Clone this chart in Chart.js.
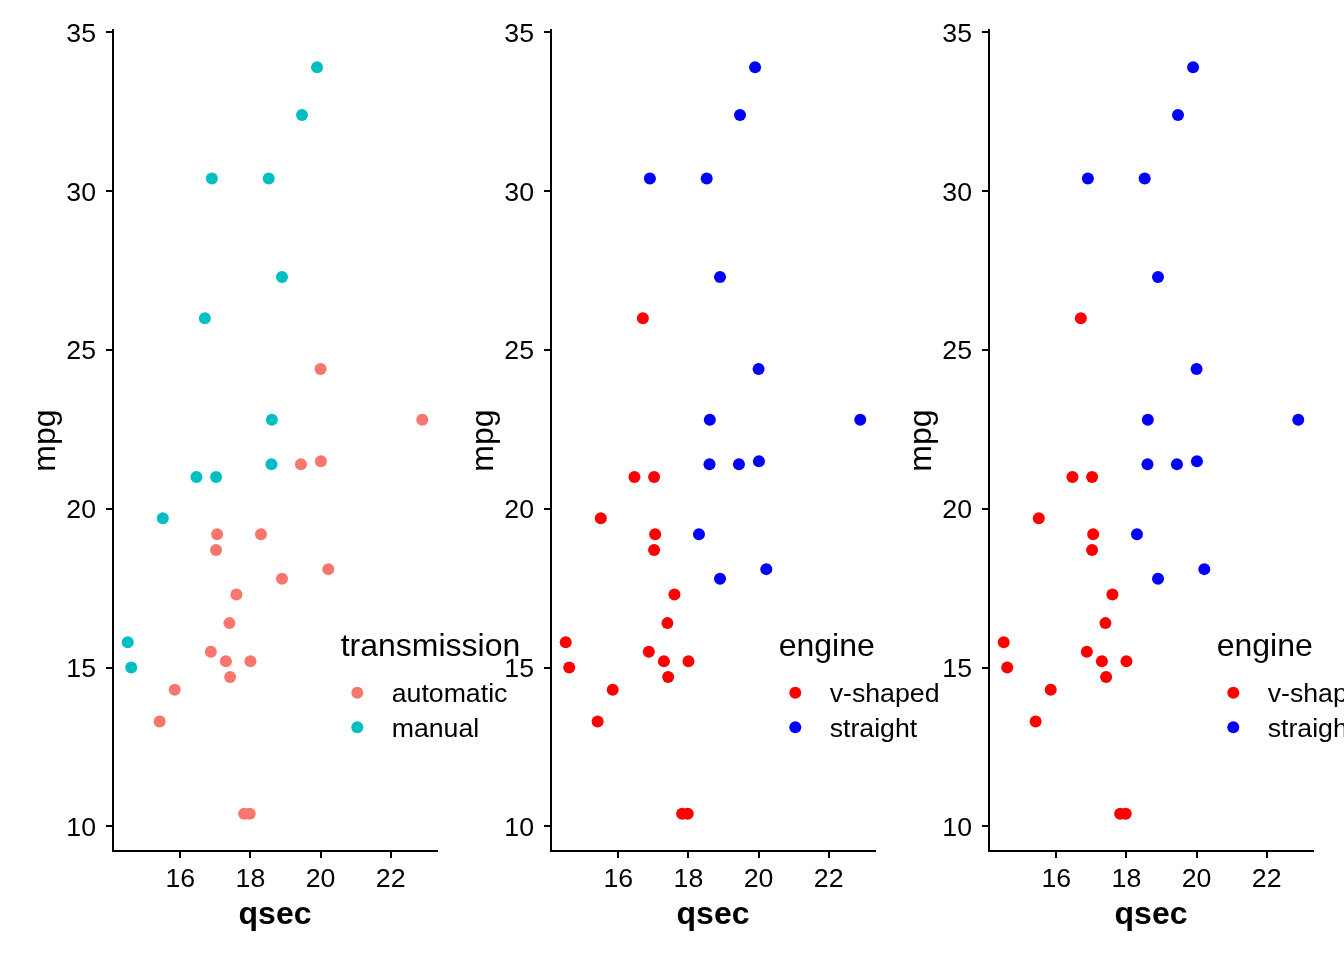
<!DOCTYPE html>
<html>
<head>
<meta charset="utf-8">
<script src="https://cdn.jsdelivr.net/npm/chart.js@4.4.1/dist/chart.umd.min.js"></script>
<style>
  html, body { margin: 0; padding: 0; background: #fff; overflow: hidden; }
  body { width: 1344px; height: 960px; position: relative; }
  .panel { position: absolute; top: 0; width: 560px; height: 960px; }
</style>
</head>
<body>
<div class="panel" style="left:0px"><canvas id="c1" width="560" height="960"></canvas></div>
<div class="panel" style="left:438px"><canvas id="c2" width="560" height="960"></canvas></div>
<div class="panel" style="left:876px"><canvas id="c3" width="560" height="960"></canvas></div>

<script>
// mtcars: qsec, mpg, am (0 = automatic, 1 = manual), vs (0 = v-shaped, 1 = straight)
const qsec = [16.46, 17.02, 18.61, 19.44, 17.02, 20.22, 15.84, 20.00, 22.90, 18.30, 18.90,
              17.40, 17.60, 18.00, 17.98, 17.82, 17.42, 19.47, 18.52, 19.90, 20.01, 16.87,
              17.30, 15.41, 17.05, 18.90, 16.70, 16.90, 14.50, 15.50, 14.60, 18.60];
const mpg  = [21.0, 21.0, 22.8, 21.4, 18.7, 18.1, 14.3, 24.4, 22.8, 19.2, 17.8,
              16.4, 17.3, 15.2, 10.4, 10.4, 14.7, 32.4, 30.4, 33.9, 21.5, 15.5,
              15.2, 13.3, 19.2, 27.3, 26.0, 30.4, 15.8, 19.7, 15.0, 21.4];
const am   = [1, 1, 1, 0, 0, 0, 0, 0, 0, 0, 0, 0, 0, 0, 0, 0, 0, 1, 1, 1, 0, 0, 0, 0, 0, 1, 1, 1, 1, 1, 1, 1];
const vs   = [0, 0, 1, 1, 0, 1, 0, 1, 1, 1, 1, 0, 0, 0, 0, 0, 0, 1, 1, 1, 1, 0, 0, 0, 0, 1, 0, 1, 0, 0, 0, 1];

const transLabels = ['automatic', 'manual'];
const transColors = ['#F8766D', '#00BFC4'];
const engineLabels = ['v-shaped', 'straight'];
const engineColors = ['#FF0000', '#0000FF'];

const xTicks = [16, 18, 20, 22];
const yTicks = [10, 15, 20, 25, 30, 35];

const FONT = "'Liberation Sans', Arial, Helvetica, sans-serif";

function groupData(groupVar, level) {
    const pts = [];
    for (let i = 0; i < qsec.length; i++) {
        if (groupVar[i] === level) pts.push({x: qsec[i], y: mpg[i]});
    }
    return pts;
}

// legend drawn to the right, like ggplot's guide
const ggLegend = {
    id: 'ggLegend',
    afterDraw(chart, args, opts) {
        const ctx = chart.ctx;
        const left = chart.chartArea.left;
        ctx.save();
        ctx.fillStyle = '#000';
        ctx.textAlign = 'left';
        ctx.textBaseline = 'alphabetic';
        ctx.font = '32px ' + FONT;
        ctx.fillText(opts.title, left + 227.7, 656);
        ctx.font = '26.7px ' + FONT;
        ctx.textBaseline = 'middle';
        const ys = [692.7, 727.3];
        opts.labels.forEach((lab, k) => {
            ctx.fillStyle = opts.colors[k];
            ctx.beginPath();
            ctx.arc(left + 244.3, ys[k], 6, 0, Math.PI * 2);
            ctx.fill();
            ctx.fillStyle = '#000';
            ctx.fillText(lab, left + 278.7, ys[k] + 2);
        });
        ctx.restore();
    }
};

function makeChart(id, groupVar, labels, colors, legendTitle) {
    const datasets = labels.map((lab, k) => ({
        label: lab,
        data: groupData(groupVar, k),
        backgroundColor: colors[k],
        borderWidth: 0,
        pointRadius: 6,
        pointHoverRadius: 6
    }));
    const axisCommon = {
        type: 'linear',
        grid: {display: true, drawOnChartArea: false, drawTicks: true, tickLength: 7, color: '#000', lineWidth: 2},
        border: {display: true, color: '#000', width: 2}
    };
    return new Chart(document.getElementById(id), {
        type: 'scatter',
        data: {datasets: datasets},
        options: {
            responsive: false,
            animation: false,
            clip: false,
            layout: {padding: {top: 30, left: 0, right: 560 - 437, bottom: 0}},
            plugins: {
                legend: {display: false},
                tooltip: {enabled: false},
                ggLegend: {title: legendTitle, labels: labels, colors: colors}
            },
            scales: {
                x: Object.assign({}, axisCommon, {
                    min: 14.08, max: 23.32,
                    afterFit(s) { s.height = 960 - 851; },
                    afterBuildTicks(s) { s.ticks = xTicks.map(v => ({value: v})); },
                    ticks: {color: '#000', padding: 6, font: {family: FONT, size: 26.7}, maxRotation: 0},
                    title: {display: true, text: 'qsec', color: '#000',
                            font: {family: FONT, size: 32, weight: 'bold'}, padding: {top: 0, bottom: 26}}
                }),
                y: Object.assign({}, axisCommon, {
                    min: 9.225, max: 35.075,
                    afterFit(s) { s.width = 113; },
                    afterBuildTicks(s) { s.ticks = yTicks.map(v => ({value: v})); },
                    ticks: {color: '#000', padding: 10, labelOffset: 2, font: {family: FONT, size: 26.7}},
                    title: {display: true, text: 'mpg', color: '#000',
                            font: {family: FONT, size: 32}, padding: {top: 27, bottom: 0}}
                })
            }
        },
        plugins: [ggLegend]
    });
}

makeChart('c1', am, transLabels, transColors, 'transmission');
makeChart('c2', vs, engineLabels, engineColors, 'engine');
makeChart('c3', vs, engineLabels, engineColors, 'engine');
</script>
</body>
</html>
